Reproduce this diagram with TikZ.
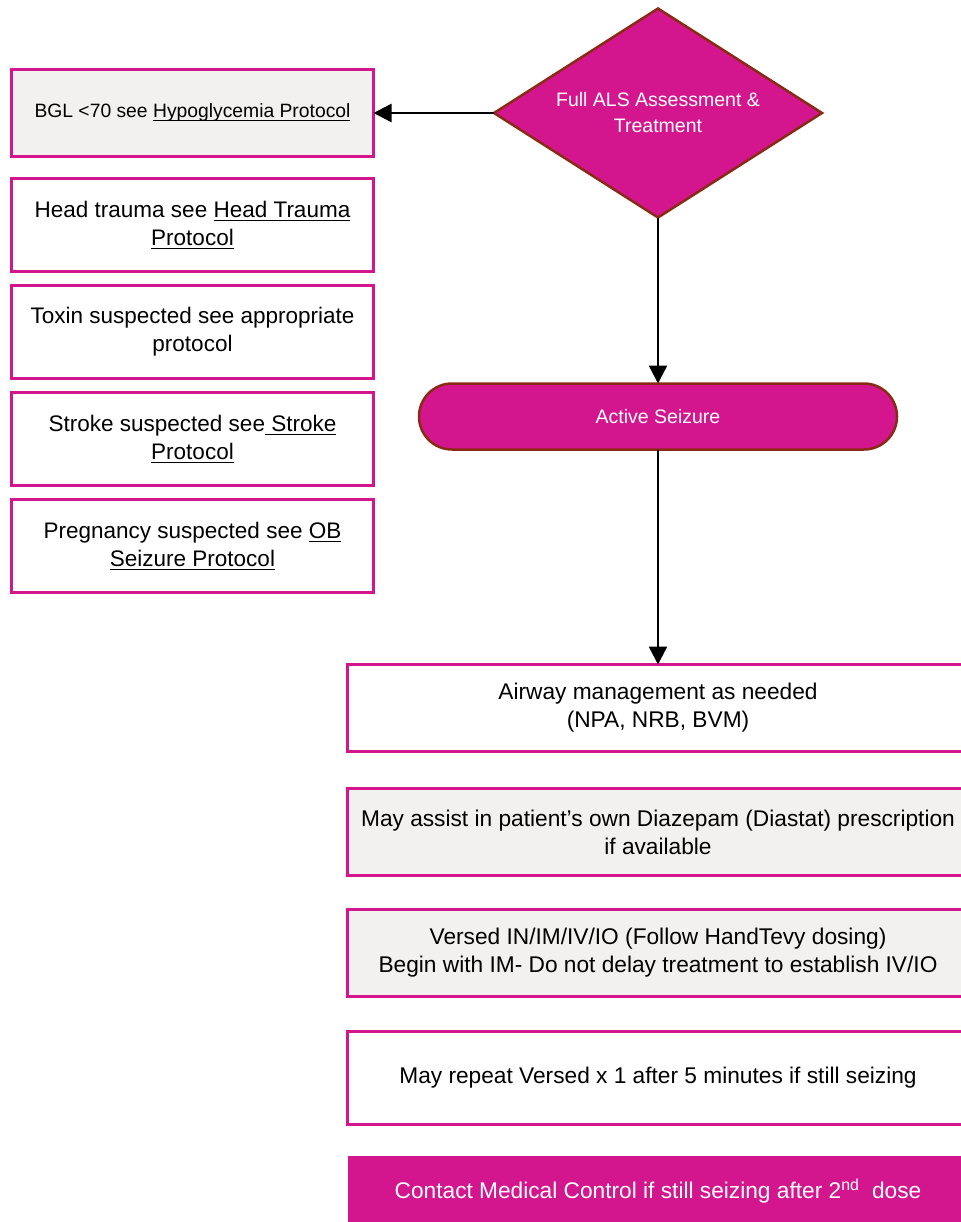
\documentclass[tikz,border=0pt]{standalone}
\usepackage{fontspec}
\setmainfont{Liberation Sans}
\usetikzlibrary{arrows.meta,positioning,shapes.geometric}

\definecolor{alsmagenta}{HTML}{D3168E}
\definecolor{alsbrown}{HTML}{8B2A14}
\definecolor{alsgrey}{HTML}{F2F1EF}
% underlined protocol reference
\newcommand{\lnk}[1]{\setbox0\hbox{#1}\rlap{\rule[-2.6pt]{\wd0}{0.9pt}}\box0}

\begin{document}
\begin{tikzpicture}[x=1pt,y=-1pt,
	sidebox/.style={rectangle, draw=alsmagenta, line width=3pt, minimum width=362pt,
		minimum height=93pt, align=center, inner sep=0pt, outer sep=0pt,
		font=\fontsize{22.5}{28}\selectfont},
	stepbox/.style={rectangle, draw=alsmagenta, line width=3pt, minimum width=621pt,
		minimum height=87pt, align=center, inner sep=0pt, outer sep=0pt,
		font=\fontsize{22.7}{28}\selectfont},
	decision/.style={diamond, aspect=1.57, draw=alsbrown, fill=alsmagenta, line width=2.5pt,
		minimum width=328pt, minimum height=209pt, text=white, align=center,
		inner sep=0pt, outer sep=0pt, font=\fontsize{19.5}{26}\selectfont},
	terminal/.style={rectangle, rounded corners=33pt, draw=alsbrown, fill=alsmagenta,
		line width=2.5pt, minimum width=478pt, minimum height=66pt, text=white,
		inner sep=0pt, outer sep=0pt, font=\fontsize{19.5}{24}\selectfont},
	flow/.style={-{Triangle[length=18pt,width=18pt]}, line width=2.5pt}]
	\useasboundingbox (0,0) rectangle (960,1222);

	\node[decision] (als) at (658,113) {Full ALS Assessment \&\\Treatment};

	\node[sidebox, fill=alsgrey, minimum height=87pt, font=\fontsize{19.3}{24}\selectfont]
		(bgl) at (192.5,113) {BGL <70 see \lnk{Hypoglycemia Protocol}};
	\node[sidebox] (head)[below=22pt of bgl] {Head trauma see \lnk{Head Trauma}\\\lnk{Protocol}};
	\node[sidebox] (toxin)[below=14pt of head] {Toxin suspected see appropriate\\protocol};
	\node[sidebox] (stroke)[below=14pt of toxin] {Stroke suspected see\lnk{\ Stroke}\\\lnk{Protocol}};
	\node[sidebox] (preg)[below=14pt of stroke] {Pregnancy suspected see \lnk{OB}\\\lnk{Seizure Protocol}};

	\node[terminal] (seize) at (658,416.5) {Active Seizure};

	\node[stepbox] (airway) at (658,708) {Airway management as needed\\(NPA, NRB, BVM)};
	\node[stepbox, fill=alsgrey] (diazepam)[below=37pt of airway]
		{May assist in patient’s own Diazepam (Diastat) prescription\\if available};
	\node[stepbox, fill=alsgrey] (versed)[below=34pt of diazepam]
		{Versed IN/IM/IV/IO (Follow HandTevy dosing)\\Begin with IM- Do not delay treatment to establish IV/IO};
	\node[stepbox, minimum height=93pt] (repeat)[below=35pt of versed]
		{May repeat Versed x 1 after 5 minutes if still seizing};
	\node[stepbox, draw=none, fill=alsmagenta, text=white, minimum height=70pt] (contact)[below=31.5pt of repeat]
		{Contact Medical Control if still seizing after 2\textsuperscript{nd}~ dose};

	\path[flow]
	(als) edge (bgl)
	(als) edge (seize)
	(seize) edge (airway);
\end{tikzpicture}
\end{document}
